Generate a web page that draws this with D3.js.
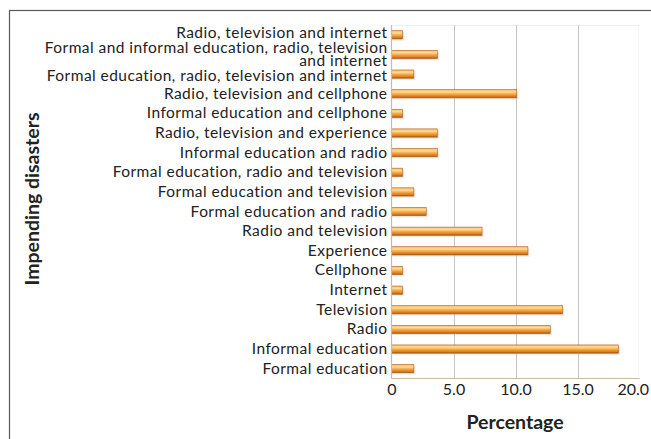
<!DOCTYPE html>
<html><head><meta charset="utf-8">
<script src="https://cdn.jsdelivr.net/npm/d3@7"></script>
<style>body{margin:0;background:#fff;}svg{display:block;}</style>
</head><body>
<svg id="chart" width="651" height="439"></svg>
<script>
const categories = [
  "Radio, television and internet",
  "Formal and informal education, radio, television|and internet",
  "Formal education, radio, television and internet",
  "Radio, television and cellphone",
  "Informal education and cellphone",
  "Radio, television and experience",
  "Informal education and radio",
  "Formal education, radio and television",
  "Formal education and television",
  "Formal education and radio",
  "Radio and television",
  "Experience",
  "Cellphone",
  "Internet",
  "Television",
  "Radio",
  "Informal education",
  "Formal education"
];
const values = [0.9, 3.7, 1.8, 10.1, 0.9, 3.7, 3.7, 0.9, 1.8, 2.8, 7.3, 11.0, 0.9, 0.9, 13.8, 12.8, 18.3, 1.8];
const xTicks = [0, 5, 10, 15, 20];
const xTickLabels = ["0", "5.0", "10.0", "15.0", "20.0"];
const xTitle = "Percentage";
const yTitle = "Impending disasters";

const svg = d3.select("#chart");
const font = "Lato, 'Open Sans', sans-serif";
const pLeft = 391.5, pRight = 639.5, pTop = 25, pBottom = 378.5;

// outer frame
svg.append("rect").attr("x", 9.5).attr("y", 10.5).attr("width", 700).attr("height", 500)
  .attr("fill", "none").attr("stroke", "#595959").attr("stroke-width", 1.2);

const x = d3.scaleLinear().domain([0, 20]).range([pLeft, pRight]);
const y = d3.scaleBand().domain(categories).range([pTop, pBottom]).paddingInner(0.58).paddingOuter(0.29);

const defs = svg.append("defs");
const g = defs.append("linearGradient").attr("id", "barGrad").attr("x1", 0).attr("x2", 0).attr("y1", 0).attr("y2", 1);
[[0, "#f5b85c"], [0.28, "#fddc9c"], [0.55, "#f4a640"], [0.8, "#dd8226"], [1, "#9e5012"]]
  .forEach(([o, c]) => g.append("stop").attr("offset", o).attr("stop-color", c));

svg.append("line").attr("x1", pLeft).attr("x2", pRight).attr("y1", pTop + 0.5).attr("y2", pTop + 0.5)
  .attr("stroke", "#f6ede8");
svg.append("g").selectAll("line").data(xTicks.slice(1, 4)).join("line")
  .attr("x1", d => Math.round(x(d)) + 0.5).attr("x2", d => Math.round(x(d)) + 0.5)
  .attr("y1", pTop).attr("y2", pBottom).attr("stroke", "#c4c4c4").attr("stroke-width", 1);
svg.append("line").attr("x1", pRight - 1).attr("x2", pRight - 1).attr("y1", pTop).attr("y2", pBottom)
  .attr("stroke", "#f7f7f7");

svg.append("g").selectAll("rect").data(categories).join("rect")
  .attr("x", x(0)).attr("y", d => y(d) + 1.5)
  .attr("width", (d, i) => x(values[i]) - x(0) + 1.5).attr("height", y.bandwidth())
  .attr("fill", "#d8c8b8").attr("opacity", 0.5);
svg.append("g").selectAll("rect").data(categories).join("rect")
  .attr("x", x(0)).attr("y", d => y(d))
  .attr("width", (d, i) => x(values[i]) - x(0)).attr("height", y.bandwidth())
  .attr("fill", "url(#barGrad)").attr("stroke", "#b0621e").attr("stroke-width", 0.6);

svg.append("line").attr("x1", pLeft).attr("x2", pLeft).attr("y1", pTop).attr("y2", pBottom)
  .attr("stroke", "#c9b9a6").attr("stroke-width", 1.2);
svg.append("line").attr("x1", pLeft).attr("x2", pRight).attr("y1", pBottom).attr("y2", pBottom)
  .attr("stroke", "#c9b9a6").attr("stroke-width", 1.2);

const xAxis = d3.axisBottom(x).tickValues(xTicks).tickFormat((d, i) => xTickLabels[i]).tickSize(0).tickPadding(5);
const xa = svg.append("g").attr("transform", `translate(0,${pBottom})`).call(xAxis);
xa.select(".domain").remove();
xa.selectAll("text").attr("font-family", font).attr("font-size", 16).attr("fill", "#222")
  .attr("text-anchor", (d, i) => i === xTicks.length - 1 ? "end" : "middle")
  .attr("dx", (d, i) => i === xTicks.length - 1 ? 9 : null);

const yAxis = d3.axisLeft(y).tickSize(0).tickPadding(4).tickFormat(d => "");
const ya = svg.append("g").attr("transform", `translate(${pLeft},0)`).call(yAxis);
ya.select(".domain").remove();
// labels next to a wrapped label are nudged away from it
const multi = categories.map(c => c.includes("|"));
ya.selectAll(".tick").each(function(d, i) {
  const lines = d.split("|");
  let nudge = 0;
  if (!multi[i]) {
    if (multi[i + 1]) nudge = -2;
    if (multi[i - 1]) nudge = 2;
  }
  const t = d3.select(this).select("text").attr("font-family", font).attr("font-size", 15.5)
    .attr("letter-spacing", 0.45).attr("fill", "#222").attr("dy", null).attr("x", -4);
  lines.forEach((ln, k) => {
    t.append("tspan").attr("x", -4)
      .attr("y", (k - (lines.length - 1) / 2) * 13.3 - 0.5 + nudge)
      .attr("dy", "0.35em").text(ln);
  });
});

svg.append("text").attr("x", 515).attr("y", 429).attr("text-anchor", "middle")
  .attr("font-family", font).attr("font-weight", "bold").attr("font-size", 19.5).attr("fill", "#222").text(xTitle);
svg.append("text").attr("transform", "translate(39,199) rotate(-90)").attr("text-anchor", "middle")
  .attr("font-family", font).attr("font-weight", "bold").attr("font-size", 19.5).attr("fill", "#222").text(yTitle);
</script>
</body></html>
